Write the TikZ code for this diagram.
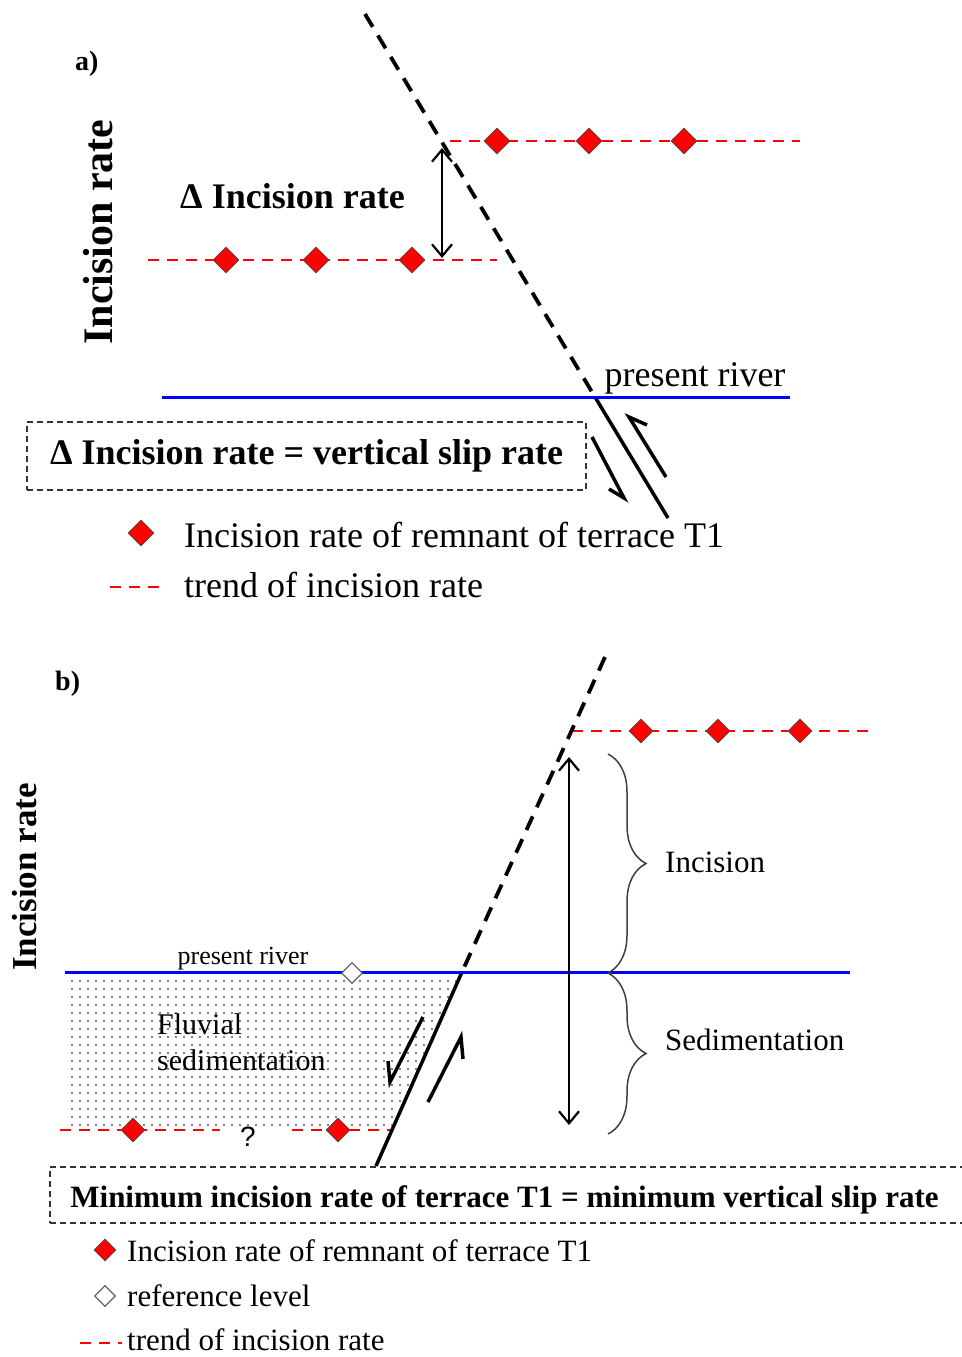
\documentclass[tikz,border=0pt]{standalone}
\usepackage{fontspec}
\setmainfont{Liberation Serif}
\newfontfamily\qfont{Liberation Sans}
\usetikzlibrary{shapes.geometric, arrows.meta, decorations.pathreplacing, patterns.meta}

\newcommand\fsz[1]{\fontsize{#1}{#1}\selectfont}

\tikzset{
  lbl/.style={inner sep=0pt},
  terrace/.style={diamond, draw=black!70, line width=0.8pt, fill=red, inner sep=0pt, minimum width=26pt, minimum height=26pt},
  reflevel/.style={diamond, draw=black!60, line width=1.2pt, fill=white, inner sep=0pt, minimum width=21pt, minimum height=21pt},
  trend/.style={red, line width=2.8pt, dash pattern=on 11pt off 8pt},
  fault/.style={line width=3.8pt, dash pattern=on 15pt off 10pt},
  faultcut/.style={line width=3.5pt},
  river/.style={blue, line width=3pt},
  slip/.style={line width=3.5pt, line join=miter},
  span/.style={line width=2.2pt, {Straight Barb[length=12pt,width=20pt]}-{Straight Barb[length=12pt,width=20pt]}},
  curly/.style={draw=black!75, line width=1.5pt, decorate, decoration={brace, amplitude=38pt}},
  eqbox/.style={draw=black!80, line width=1.5pt, dash pattern=on 6pt off 4pt, inner ysep=0pt},
}

\begin{document}
\begin{tikzpicture}[x=1pt,y=-1pt]
\useasboundingbox (0,0) rectangle (961,1357);

% a)
\coordinate (faTop) at (365,14);
\coordinate (faRiver) at (595,397);
\coordinate (faBase) at (668,518);
\coordinate (hiAw) at (450,141);
\coordinate (hiAe) at (800,141);
\coordinate (loAw) at (148,260);
\coordinate (loAe) at (497,260);
\coordinate (rivAw) at (162,397);
\coordinate (rivAe) at (790,397);
\draw[trend] (hiAw) -- (hiAe);
\draw[trend] (loAw) -- (loAe);
\draw[fault] (faTop) -- (faRiver);
\draw[faultcut] (faRiver) -- (faBase);
\draw[river] (rivAw) -- (rivAe);
\foreach \x [count=\i] in {497,589,684}
  \node[terrace] (hiA\i) at (\x,141) {};
\foreach \x [count=\i] in {226,316,412}
  \node[terrace] (loA\i) at (\x,260) {};
\coordinate (dTop) at (442,148);
\coordinate (dBot) at (442,258);
\draw[span] (dTop) -- (dBot);
\draw[slip] (592,437) -- (624,498) -- (609,489);
\draw[slip] (666,477) -- (629,417) -- (647,425);

\node[lbl, anchor=base west, font=\fsz{28}\bfseries] (labA) at (75,70) {a)};
\node[lbl, anchor=base, rotate=90, font=\fsz{42}\bfseries] (axisA) at (112,232) {Incision rate};
\node[lbl, anchor=base west, font=\fsz{36}\bfseries] (deltaA) at (180,208) {Δ Incision rate};
\node[lbl, anchor=base, font=\fsz{36}] (rivlabA) at (695,386) {present river};
\node[eqbox, minimum width=559pt, minimum height=68pt, font=\fsz{36}\bfseries] (boxA) at (306.5,456) {Δ Incision rate = vertical slip rate};

\node[terrace] (keyA1) at (141,533) {};
\node[lbl, anchor=base west, font=\fsz{36}] (keyA1t) at (184,547) {Incision rate of remnant of terrace T1};
\coordinate (keyA2w) at (110,587);
\coordinate (keyA2e) at (162,587);
\draw[trend] (keyA2w) -- (keyA2e);
\node[lbl, anchor=base west, font=\fsz{36}] (keyA2t) at (184,597) {trend of incision rate};

% b)
\coordinate (fbTop) at (605,657);
\coordinate (fbRiver) at (462,972);
\coordinate (fbBase) at (376,1166);
\fill[pattern={Dots[distance=8pt,radius=0.8pt]}, pattern color=black] (65,976) -- (460,976) -- (391,1127) -- (65,1127) -- cycle;
\coordinate (hiBw) at (572,731);
\coordinate (hiBe) at (872,731);
\coordinate (loBw) at (60,1130);
\coordinate (loBe) at (220,1130);
\coordinate (loCw) at (292,1130);
\coordinate (loCe) at (390,1130);
\coordinate (rivBw) at (65,972);
\coordinate (rivBe) at (850,972);
\draw[trend] (hiBw) -- (hiBe);
\draw[trend] (loBw) -- (loBe);
\draw[trend] (loCw) -- (loCe);
\draw[fault] (fbTop) -- (fbRiver);
\draw[faultcut] (fbRiver) -- (fbBase);
\draw[river] (rivBw) -- (rivBe);
\foreach \x [count=\i] in {641,718,800}
  \node[terrace, minimum width=24pt, minimum height=24pt] (hiB\i) at (\x,731) {};
\node[terrace, minimum width=24pt, minimum height=24pt] (loB1) at (133,1130) {};
\node[terrace, minimum width=24pt, minimum height=24pt] (loB2) at (338,1130) {};
\node[reflevel] (refB) at (352,973) {};
\node[lbl, font=\qfont\fsz{28}] (qB) at (248,1137) {?};
\coordinate (sTop) at (569,757);
\coordinate (sBot) at (569,1125);
\draw[span] (sTop) -- (sBot);
\draw[slip] (423,1017) -- (390,1082) -- (388,1061);
\draw[slip] (428,1102) -- (461,1037) -- (463,1059);
\draw[curly] (608,754) -- (608,973);
\draw[curly] (608,973) -- (608,1134);

\node[lbl, anchor=base west, font=\fsz{28}\bfseries] (labB) at (55,690) {b)};
\node[lbl, anchor=base, rotate=90, font=\fsz{35}\bfseries] (axisB) at (36,877) {Incision rate};
\node[lbl, anchor=base, font=\fsz{26}] (rivlabB) at (243,964) {present river};
\node[lbl, anchor=west, align=left, font=\fontsize{30}{36}\selectfont] (fluvB) at (157,1042) {Fluvial\\sedimentation};
\node[lbl, anchor=base west, font=\fsz{31}] (incB) at (665,872) {Incision};
\node[lbl, anchor=base west, font=\fsz{31}] (sedB) at (665,1050) {Sedimentation};
\node[eqbox, minimum width=925pt, minimum height=56pt, text height=31pt, text depth=7pt, font=\fsz{31}\bfseries] (boxB) at (512.5,1195) {\hspace*{-16pt}Minimum incision rate of terrace T1 = minimum vertical slip rate};

\node[terrace, minimum width=22pt, minimum height=22pt] (keyB1) at (105,1250) {};
\node[lbl, anchor=base west, font=\fsz{31}] (keyB1t) at (127,1261) {Incision rate of remnant of terrace T1};
\node[reflevel] (keyB2) at (105,1296) {};
\node[lbl, anchor=base west, font=\fsz{31}] (keyB2t) at (127,1306) {reference level};
\coordinate (keyB3w) at (80,1343);
\coordinate (keyB3e) at (122,1343);
\draw[trend] (keyB3w) -- (keyB3e);
\node[lbl, anchor=base west, font=\fsz{31}] (keyB3t) at (127,1350) {trend of incision rate};
\end{tikzpicture}
\end{document}
